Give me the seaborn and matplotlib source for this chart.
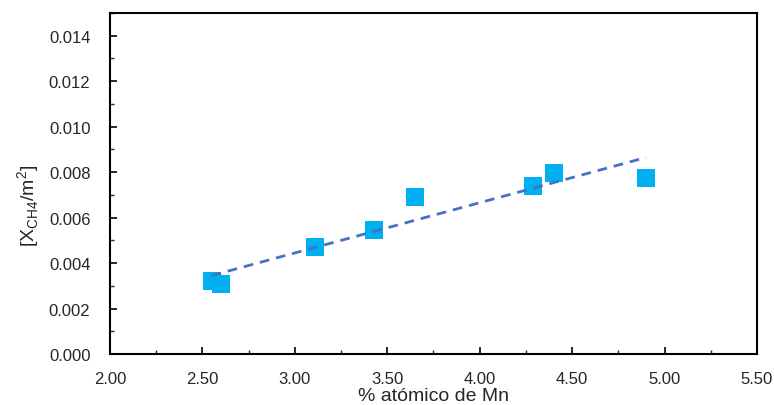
import matplotlib
matplotlib.use("Agg")
import matplotlib.pyplot as plt
from matplotlib.ticker import MultipleLocator, FormatStrFormatter
import seaborn as sns
import pandas as pd

mn_pct = [2.55, 2.60, 3.11, 3.43, 3.65, 4.29, 4.40, 4.90]
x_ch4 = [0.0032, 0.0031, 0.0047, 0.00545, 0.0069, 0.0074, 0.00795, 0.00775]

df = pd.DataFrame({"mn": mn_pct, "x": x_ch4})

sns.set_theme(style="white")
plt.rcParams['font.family'] = ['Liberation Sans', 'DejaVu Sans']
plt.rcParams['mathtext.fontset'] = 'custom'
plt.rcParams['mathtext.rm'] = 'Liberation Sans'

fig = plt.figure(figsize=(7.74, 4.06), dpi=100)
ax = fig.add_axes([0.142, 0.1256, 0.836, 0.84])

sns.scatterplot(data=df, x="mn", y="x", marker="s", s=175, color="#00B0F0",
                edgecolor="#00B0F0", linewidth=0, ax=ax, zorder=2)
sns.regplot(data=df, x="mn", y="x", scatter=False, ci=None, truncate=True, ax=ax,
            line_kws=dict(color="#4472C4", linestyle=(0, (3.5, 2.5)), linewidth=2, zorder=3))

ax.set_xlim(2.0, 5.5)
ax.set_ylim(0.0, 0.015)
ax.xaxis.set_major_locator(MultipleLocator(0.5))
ax.xaxis.set_minor_locator(MultipleLocator(0.25))
ax.yaxis.set_major_locator(MultipleLocator(0.002))
ax.yaxis.set_minor_locator(MultipleLocator(0.001))
ax.xaxis.set_major_formatter(FormatStrFormatter('%.2f'))
ax.yaxis.set_major_formatter(FormatStrFormatter('%.3f'))
ax.set_yticks([0.0, 0.002, 0.004, 0.006, 0.008, 0.010, 0.012, 0.014])

ax.tick_params(axis='both', which='major', direction='in', length=5, width=1.2,
               labelsize=12, colors='black', labelcolor='#262626',
               bottom=True, left=True)
ax.tick_params(axis='both', which='minor', direction='in', length=3, width=1.0,
               bottom=True, left=True)
ax.tick_params(axis='y', which='major', pad=14)
ax.tick_params(axis='x', which='major', pad=12)

for sp in ax.spines.values():
    sp.set_visible(True)
    sp.set_color('black')
    sp.set_linewidth(1.5)

ax.set_xlabel("% atómico de Mn", fontsize=14, color='#262626')
ax.xaxis.set_label_coords(0.5, -0.096)
ax.set_ylabel(r"[X$_{\mathregular{CH4}}$/m$^{\mathregular{2}}$]", fontsize=14,
              color='#262626')
ax.yaxis.set_label_coords(-0.105, 0.437)

fig.savefig("out.png", dpi=100)
